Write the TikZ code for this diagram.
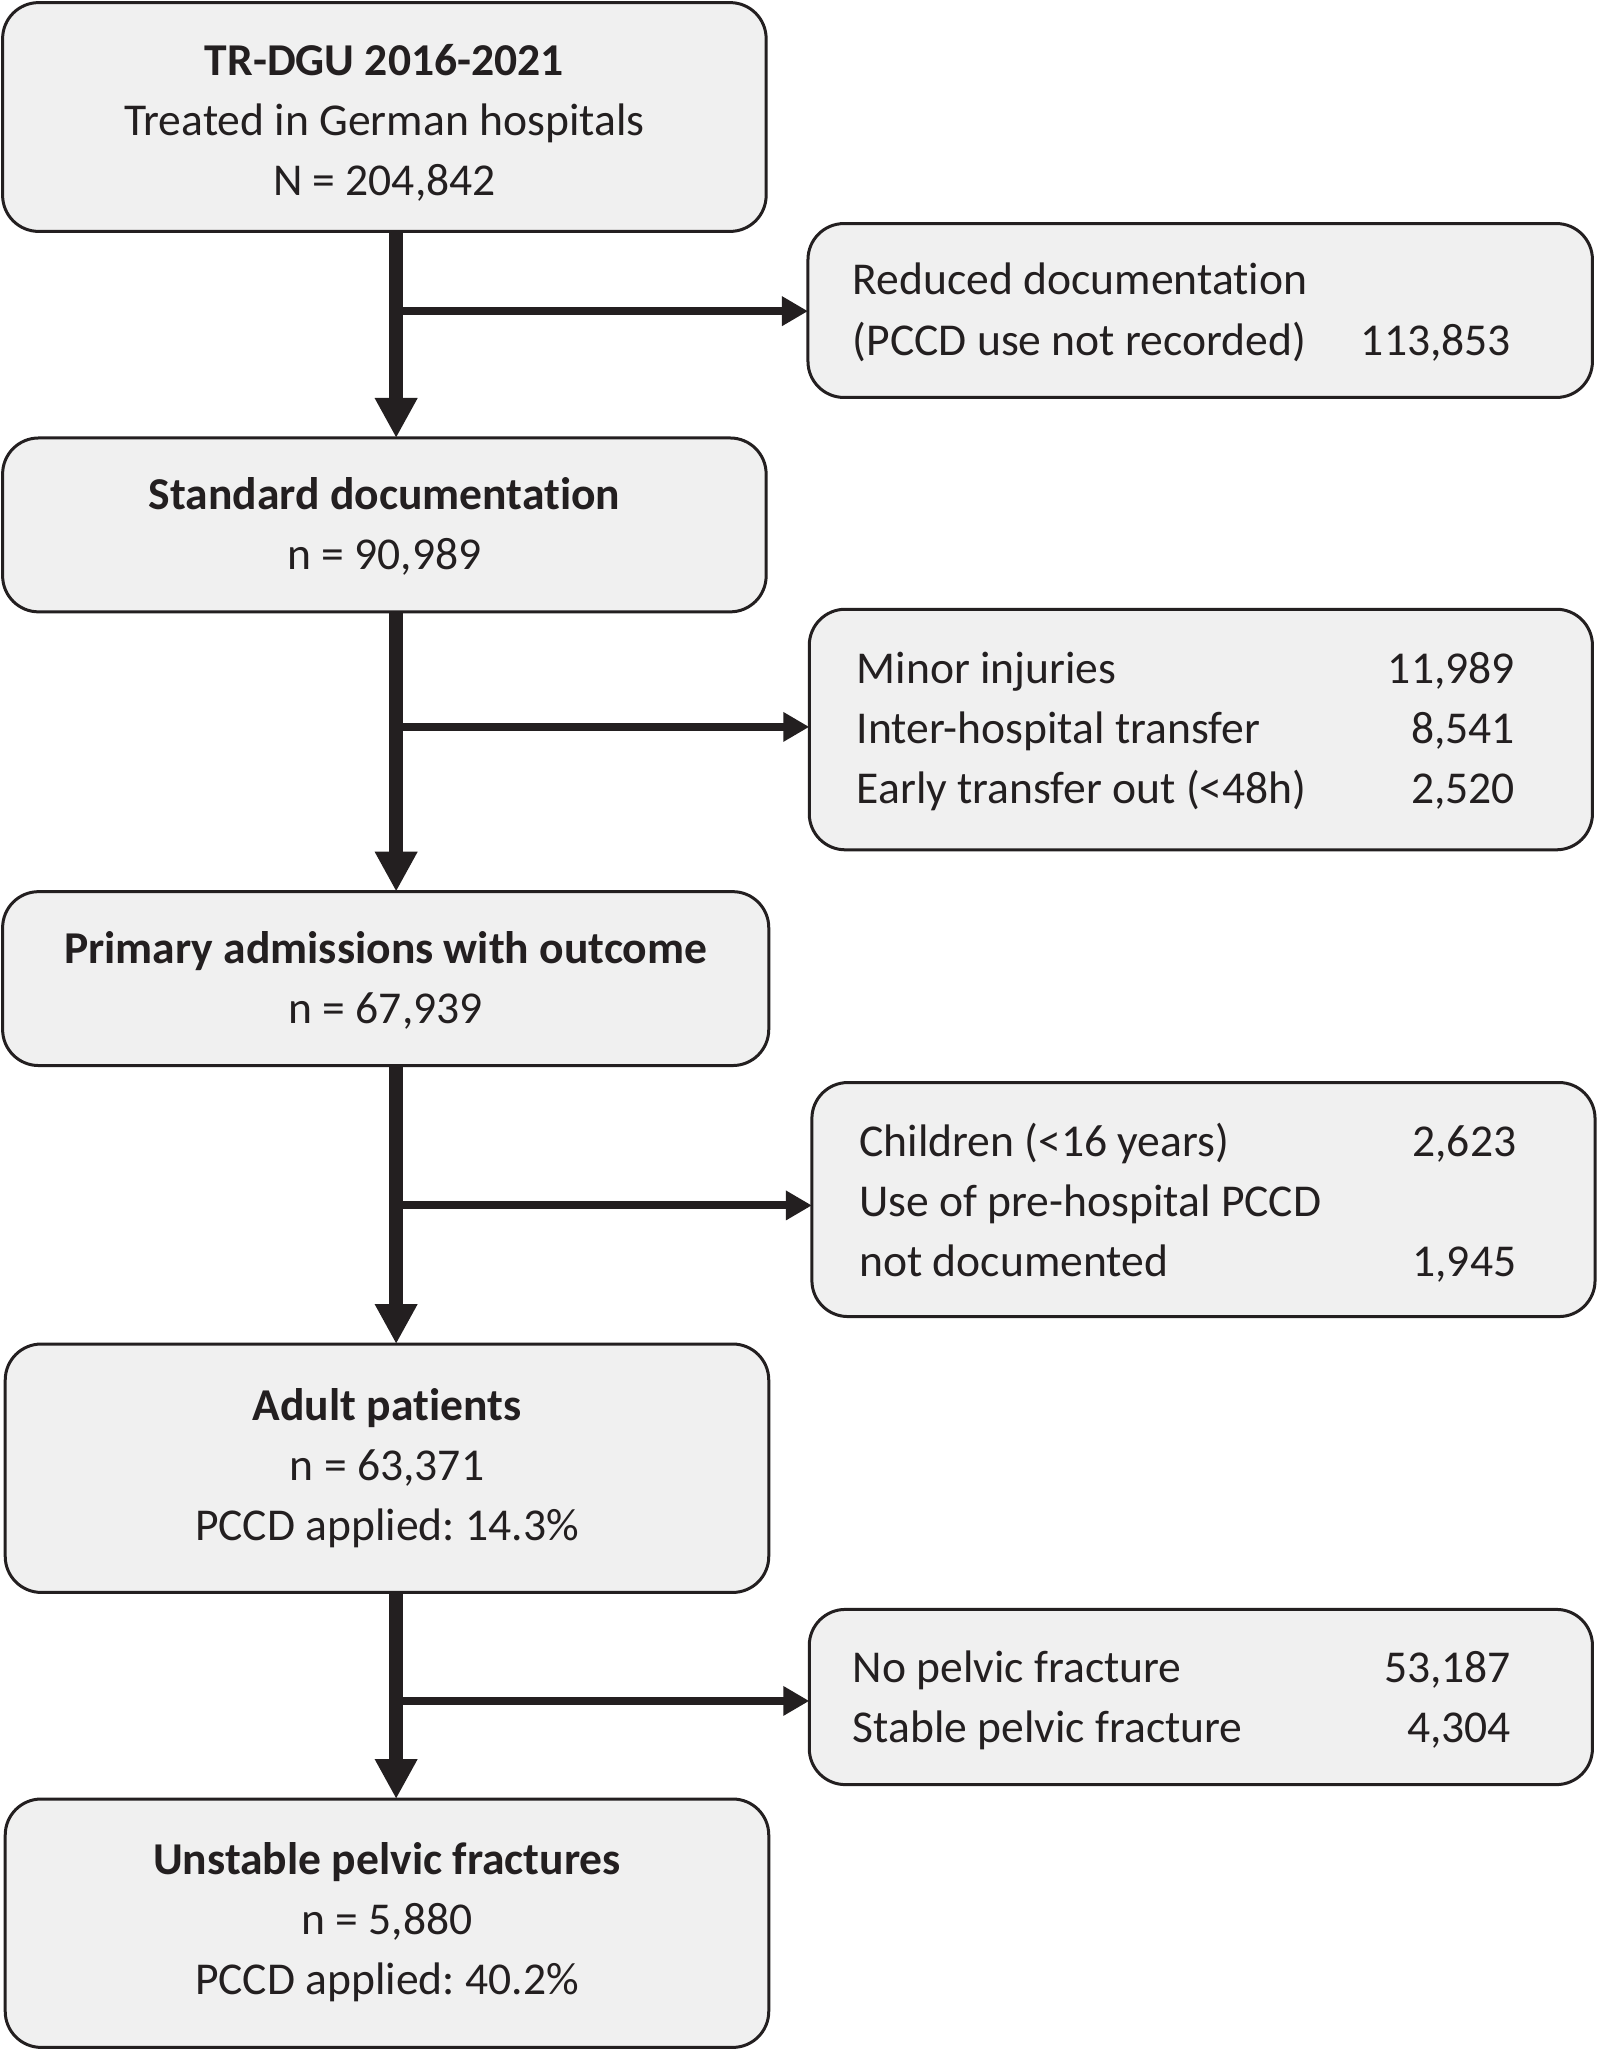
\documentclass[tikz,border=0pt]{standalone}
\usepackage{fontspec}
\setmainfont{Carlito}[Ligatures={NoCommon}]
\usetikzlibrary{arrows.meta}
\definecolor{ink}{HTML}{231F20}
\definecolor{boxfill}{HTML}{F0F0F0}
\def\upx{0.65385pt}
\frenchspacing
\begin{document}
\begin{tikzpicture}[x=0.65385pt,y=-0.65385pt,
  box/.style={draw=ink,fill=boxfill,line width=1.5pt,rounded corners=18pt,
    inner sep=0pt,outer sep=0pt,rectangle},
  txt/.style={text=ink,font=\fontsize{22.8}{30}\selectfont,inner sep=0pt,anchor=mid,yshift=-5.2pt},
  txtb/.style={txt,font=\fontsize{22.8}{30}\selectfont\bfseries},
  lft/.style={txt,anchor=mid west},
  rgt/.style={txt,anchor=mid east},
  trunk/.style={draw=ink,line width=7pt,-{Triangle[width=20pt,length=20pt]}},
  branch/.style={draw=ink,line width=4pt,-{Triangle[width=14pt,length=13pt]}}]
\useasboundingbox (0,0) rectangle (1222,1568);
% main boxes
\node[box,minimum width=584*\upx,minimum height=175*\upx] (b1) at (294,89.5) {};
\node[box,minimum width=584*\upx,minimum height=133*\upx] (b2) at (294,401.5) {};
\node[box,minimum width=586*\upx,minimum height=133*\upx] (b3) at (295,748.5) {};
\node[box,minimum width=584*\upx,minimum height=190*\upx] (b4) at (296,1123) {};
\node[box,minimum width=584*\upx,minimum height=190*\upx] (b5) at (296,1471) {};
% side boxes
\node[box,minimum width=600*\upx,minimum height=133*\upx] (r1) at (918,237.5) {};
\node[box,minimum width=599*\upx,minimum height=184*\upx] (r2) at (918.5,558) {};
\node[box,minimum width=599*\upx,minimum height=179*\upx] (r3) at (920.5,917.5) {};
\node[box,minimum width=599*\upx,minimum height=134*\upx] (r4) at (918.5,1298) {};
% texts main
\node[txtb] (t1a) at (294,46) {TR-DGU 2016-2021};
\node[txt] (t1b) at (294,92) {Treated in German hospitals};
\node[txt] (t1c) at (294,138) {N = 204,842};
\node[txtb] (t2a) at (294,378) {Standard documentation};
\node[txt] (t2b) at (294,424) {n = 90,989};
\node[txtb] (t3a) at (295,725) {Primary admissions with outcome};
\node[txt] (t3b) at (295,771) {n = 67,939};
\node[txtb] (t4a) at (296,1075) {Adult patients};
\node[txt] (t4b) at (296,1121) {n = 63,371};
\node[txt] (t4c) at (296,1167) {PCCD applied: 14.3\%};
\node[txtb] (t5a) at (296,1422) {Unstable pelvic fractures};
\node[txt] (t5b) at (296,1468) {n = 5,880};
\node[txt] (t5c) at (296,1514) {PCCD applied: 40.2\%};
% texts side
\node[lft] (s1a) at (652,214) {Reduced documentation};
\node[lft] (s1b) at (652,260) {(PCCD use not recorded)};
\node[rgt] (n1b) at (1156,260) {113,853};
\node[lft] (s2a) at (655,511) {Minor injuries};
\node[lft] (s2b) at (655,557) {Inter-hospital transfer};
\node[lft] (s2c) at (655,603) {Early transfer out (<48h)};
\node[rgt] (n2a) at (1159,511) {11,989};
\node[rgt] (n2b) at (1159,557) {8,541};
\node[rgt] (n2c) at (1159,603) {2,520};
\node[lft] (s3a) at (657,873) {Children (<16 years)};
\node[lft] (s3b) at (657,919) {Use of pre-hospital PCCD};
\node[lft] (s3c) at (657,965) {not documented};
\node[rgt] (n3a) at (1160,873) {2,623};
\node[rgt] (n3c) at (1160,965) {1,945};
\node[lft] (s4a) at (652,1275) {No pelvic fracture};
\node[lft] (s4b) at (652,1321) {Stable pelvic fracture};
\node[rgt] (n4a) at (1156,1275) {53,187};
\node[rgt] (n4b) at (1156,1321) {4,304};
% junctions
\coordinate (j1) at (303,238);
\coordinate (j2) at (303,556);
\coordinate (j3) at (303,922);
\coordinate (j4) at (303,1301);
% connectors
\draw[trunk] (j1 |- b1.south) -- (j1 |- b2.north);
\draw[trunk] (j2 |- b2.south) -- (j2 |- b3.north);
\draw[trunk] (j3 |- b3.south) -- (j3 |- b4.north);
\draw[trunk] (j4 |- b4.south) -- (j4 |- b5.north);
\draw[branch] ([xshift=-2pt]j1) -- (j1 -| r1.west);
\draw[branch] ([xshift=-2pt]j2) -- (j2 -| r2.west);
\draw[branch] ([xshift=-2pt]j3) -- (j3 -| r3.west);
\draw[branch] ([xshift=-2pt]j4) -- (j4 -| r4.west);
\end{tikzpicture}
\end{document}
